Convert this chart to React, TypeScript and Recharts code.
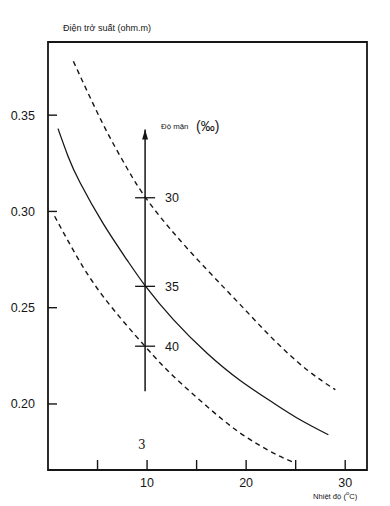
import React from 'react';
import { ComposedChart, Line, Scatter, XAxis, YAxis, ReferenceArea } from 'recharts';

// temperature (°C) / resistivity (ohm.m) readings per salinity curve
const tempHigh = [2.56, 4.58, 6.26, 7.95, 9.63, 12.32, 16.03, 19.4, 22.76, 26.13, 29.0];
const resHigh = [0.378, 0.3556, 0.3383, 0.3227, 0.3088, 0.291, 0.2698, 0.2516, 0.2335, 0.2178, 0.2074];

const tempMid = [1.01, 2.02, 3.23, 5.59, 7.95, 9.8, 12.66, 16.03, 19.4, 22.76, 25.45, 28.3];
const resMid = [0.343, 0.3287, 0.315, 0.2935, 0.275, 0.2615, 0.2438, 0.2265, 0.2122, 0.2005, 0.1918, 0.184];

const tempLow = [0.67, 2.7, 5.56, 9.8, 12.66, 16.03, 19.4, 22.76, 24.95];
const resLow = [0.2975, 0.2785, 0.2559, 0.2299, 0.2144, 0.1988, 0.1849, 0.1745, 0.1693];

// salinity scale (‰) drawn on the vertical arrow
const salinity = ['30', '35', '40'];
const salinityRes = [0.3071, 0.2611, 0.23];
const arrowTemp = 9.8;
const arrowRes = [0.2066, 0.3426];

const xTicks = [5, 10, 15, 20, 25, 30];
const yTicks = [0.2, 0.25, 0.3, 0.35];
const xDomain = [0, 32.2];
const yDomain = [0.1657, 0.388];

const toPoints = (ts: number[], vs: number[]) => ts.map((t, i) => ({ t, v: vs[i] }));
const high = toPoints(tempHigh, resHigh);
const mid = toPoints(tempMid, resMid);
const low = toPoints(tempLow, resLow);
const arrow = arrowRes.map(v => ({ t: arrowTemp, v }));
const scale = salinity.map((label, i) => ({ t: arrowTemp, v: salinityRes[i], label }));

const ink = '#161616';
const font = '"Liberation Sans", Arial, sans-serif';

const XTick = (props: any) => {
  const { x, y, payload } = props;
  return (
    <g>
      <line x1={x} y1={y} x2={x} y2={y - 10} stroke={ink} strokeWidth={1.4} />
      {payload.value % 10 === 0 && (
        <text x={x} y={y + 17} textAnchor="middle" fontSize={12.5} fontFamily={font} fill={ink}>
          {payload.value}
        </text>
      )}
    </g>
  );
};

const YTick = (props: any) => {
  const { x, y, payload } = props;
  return (
    <g>
      <line x1={x} y1={y} x2={x + 9} y2={y} stroke={ink} strokeWidth={1.4} />
      <text x={x - 13} y={y + 4.5} textAnchor="end" fontSize={12.5} fontFamily={font} fill={ink}>
        {Number(payload.value).toFixed(2)}
      </text>
    </g>
  );
};

const ArrowHead = (props: any) => {
  const { cx, cy, index } = props;
  if (index !== 1) return <g key={`a${index}`} />;
  return <path key={`a${index}`} d={`M${cx},${cy} L${cx - 3},${cy + 10} L${cx + 3},${cy + 10} Z`} fill={ink} />;
};

const ScaleMark = (props: any) => {
  const { cx, cy, payload } = props;
  return (
    <g>
      <line x1={cx - 10} y1={cy} x2={cx + 10} y2={cy} stroke={ink} strokeWidth={1.3} />
      <text x={cx + 20} y={cy + 4.5} fontSize={12.5} fontFamily={font} fill={ink}>
        {payload.label}
      </text>
    </g>
  );
};

const App: React.FC = () => {
  return (
    <div style={{ position: 'absolute', left: 0, top: 0, width: 390, height: 506, background: '#fff' }}>
      <ComposedChart width={390} height={506} margin={{ top: 42, right: 23, bottom: 0, left: 8 }}>
        <XAxis
          type="number"
          dataKey="t"
          domain={xDomain}
          ticks={xTicks}
          allowDataOverflow
          height={36}
          axisLine={false}
          tickLine={false}
          tickSize={0}
          tickMargin={0}
          tick={XTick}
        />
        <YAxis
          type="number"
          dataKey="v"
          domain={yDomain}
          ticks={yTicks}
          allowDataOverflow
          width={40}
          axisLine={false}
          tickLine={false}
          tickSize={0}
          tickMargin={0}
          tick={YTick}
        />
        <ReferenceArea
          x1={xDomain[0]}
          x2={xDomain[1]}
          y1={yDomain[0]}
          y2={yDomain[1]}
          fill="none"
          stroke={ink}
          strokeWidth={1.8}
          ifOverflow="visible"
        />
        <Line data={high} dataKey="v" type="natural" stroke={ink} strokeWidth={1.4} strokeDasharray="5 4" dot={false} isAnimationActive={false} />
        <Line data={mid} dataKey="v" type="natural" stroke={ink} strokeWidth={1.3} dot={false} isAnimationActive={false} />
        <Line data={low} dataKey="v" type="natural" stroke={ink} strokeWidth={1.4} strokeDasharray="5 4" dot={false} isAnimationActive={false} />
        <Line data={arrow} dataKey="v" type="linear" stroke={ink} strokeWidth={1.5} dot={ArrowHead} isAnimationActive={false} />
        <Scatter data={scale} dataKey="v" shape={ScaleMark} isAnimationActive={false} />
      </ComposedChart>

      <div style={{ position: 'absolute', left: 63, top: 23, fontSize: 9, fontFamily: font, color: ink, whiteSpace: 'nowrap' }}>
        Điện trở suất (ohm.m)
      </div>
      <div style={{ position: 'absolute', left: 313, top: 490, fontSize: 7.6, fontFamily: font, color: ink, whiteSpace: 'nowrap' }}>
        Nhiệt độ (<sup style={{ fontSize: 6 }}>o</sup>C)
      </div>
      <div style={{ position: 'absolute', left: 161, top: 122, fontSize: 7.8, fontFamily: font, color: ink, whiteSpace: 'nowrap' }}>
        Độ mặn
      </div>
      <div style={{ position: 'absolute', left: 196, top: 118, fontSize: 14, fontFamily: font, color: ink, whiteSpace: 'nowrap' }}>
        (‰)
      </div>
      <div style={{ position: 'absolute', left: 138, top: 438, fontSize: 12, fontFamily: 'DejaVu Serif, serif', color: ink }}>
        3
      </div>
    </div>
  );
};

export default App;
